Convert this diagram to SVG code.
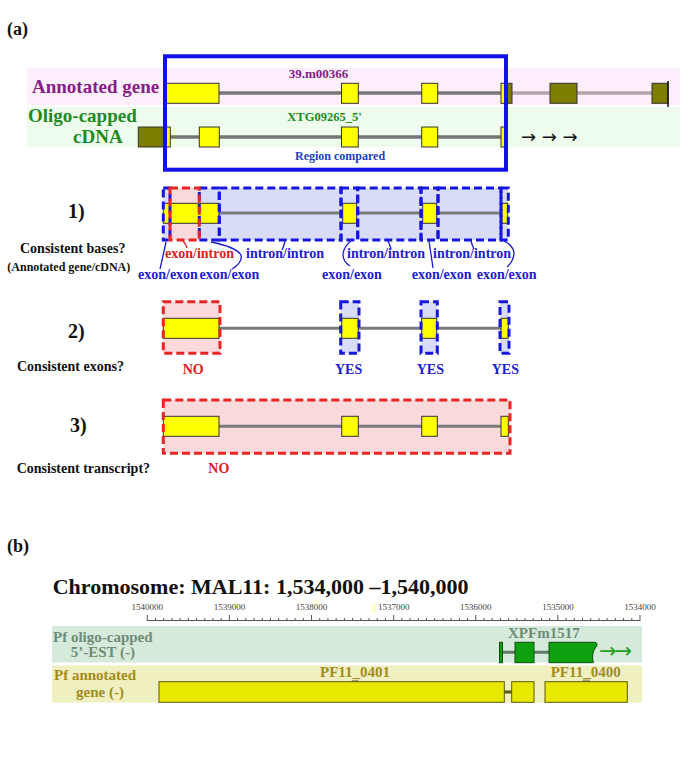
<svg xmlns="http://www.w3.org/2000/svg" width="685" height="782" viewBox="0 0 685 782">
<style>
.t{font-family:"Liberation Serif","Times New Roman",serif;font-weight:bold}
.k{fill:#111}
.pur{fill:#852085}
.grn{fill:#1f8a1f}
.blu{fill:#2020d0}
.red{fill:#e02020}
.ex{fill:#ffff00;stroke:#333;stroke-width:1}
.ol{fill:#7d7d00;stroke:#333;stroke-width:1}
.in{stroke:#767676;stroke-width:3.5}
.in3{stroke:#7a7a7a;stroke-width:3}
.bf{fill:#d9dcf6}
.rf{fill:#f9d9d9}
.bd{fill:none;stroke:#1616e0;stroke-width:3;stroke-dasharray:8 4}
.rd{fill:none;stroke:#e82424;stroke-width:3;stroke-dasharray:8 4}
.br{fill:none;stroke:#1a1ad0;stroke-width:1.3}
.gt{fill:#6f8c74}
.yt{fill:#a08d1e}
.gex{fill:#0ea00e;stroke:#0a500a;stroke-width:1}
.yex{fill:#e8e800;stroke:#5a5a10;stroke-width:1}
</style>
<rect width="685" height="782" fill="#ffffff"/>

<!-- ============ (a) ============ -->
<text class="t k" x="7" y="35" font-size="18">(a)</text>

<g id="top-panel">
  <rect x="27" y="68" width="653" height="37" fill="#fdeefc"/>
  <rect x="27" y="107" width="653" height="40" fill="#eefcee"/>
</g>

<g id="annotated-gene">
  <text class="t pur" x="32" y="92.7" font-size="19">Annotated gene</text>
  <text class="t pur" x="318.5" y="78" font-size="13" text-anchor="middle">39.m00366</text>
  <line class="in" x1="219" y1="93" x2="506" y2="93"/>
  <line x1="512" y1="93" x2="652" y2="93" stroke="#b5a5a8" stroke-width="3.5"/>
  <rect class="ex" x="166.5" y="83.3" width="52.5" height="20"/>
  <rect class="ex" x="341.5" y="83.3" width="16.8" height="20"/>
  <rect class="ex" x="421.7" y="83.3" width="16" height="20"/>
  <rect class="ex" x="501" y="83.3" width="5" height="20"/>
  <rect class="ol" x="506" y="83.3" width="6" height="20"/>
  <rect class="ol" x="550" y="83.3" width="27" height="20"/>
  <rect class="ol" x="652" y="83.3" width="16" height="20"/>
  <line x1="668" y1="81" x2="668" y2="107" stroke="#111" stroke-width="1.5"/>
</g>

<g id="oligo-cdna">
  <text class="t grn" x="28" y="121.7" font-size="19">Oligo-capped</text>
  <text class="t grn" x="73" y="143" font-size="19">cDNA</text>
  <text class="t grn" x="287.3" y="121" font-size="12.5">XTG09265_5'</text>
  <line class="in" x1="170" y1="137" x2="503" y2="137"/>
  <rect class="ol" x="138.3" y="127" width="27" height="20"/>
  <rect class="ex" x="165.3" y="127" width="5" height="20"/>
  <rect class="ex" x="199.3" y="127" width="20" height="20"/>
  <rect class="ex" x="341.5" y="127" width="16.8" height="20"/>
  <rect class="ex" x="421.7" y="127" width="16" height="20"/>
  <rect class="ex" x="501" y="127" width="5" height="20"/>
  <text x="521" y="143" font-family="DejaVu Sans, sans-serif" font-size="18" fill="#111">→ → →</text>
</g>

<g id="region-compared">
  <rect x="165" y="56.3" width="341" height="113.4" fill="none" stroke="#1010e8" stroke-width="4"/>
  <text class="t" x="295" y="160" font-size="12" fill="#2040c0">Region compared</text>
</g>

<!-- ===== 1) Consistent bases ===== -->
<g id="step1">
  <text class="t k" x="68" y="218" font-size="20">1)</text>
  <text class="t k" x="20" y="253.3" font-size="14">Consistent bases?</text>
  <text class="t k" x="7.3" y="271" font-size="12">(Annotated gene/cDNA)</text>
  <rect class="bf" x="163.3" y="188" width="6.7" height="52"/>
  <rect class="rf" x="170" y="188" width="29.3" height="52"/>
  <rect class="bf" x="199.3" y="188" width="308.7" height="52"/>
  <line class="in3" x1="219" y1="213" x2="502" y2="213"/>
  <rect class="ex" x="163.3" y="203.3" width="55.7" height="20"/>
  <line x1="170" y1="203.3" x2="170" y2="223.3" stroke="#222" stroke-width="1"/>
  <rect class="ex" x="342.7" y="203.3" width="14" height="20"/>
  <rect class="ex" x="422.7" y="203.3" width="14" height="20"/>
  <rect class="ex" x="501.7" y="203.3" width="6" height="20"/>
  <rect class="bd" x="163.3" y="188" width="6.7" height="52"/>
  <rect class="bd" x="199.3" y="188" width="20" height="52"/>
  <rect class="bd" x="219.3" y="188" width="121.7" height="52"/>
  <rect class="bd" x="341" y="188" width="16.7" height="52"/>
  <rect class="bd" x="357.7" y="188" width="63.3" height="52"/>
  <rect class="bd" x="421" y="188" width="17" height="52"/>
  <rect class="bd" x="438" y="188" width="63" height="52"/>
  <rect class="bd" x="501" y="188" width="7.3" height="52"/>
  <rect class="rd" x="170" y="188" width="29.3" height="52"/>
  <text class="t red" x="165" y="258" font-size="14">exon/intron</text>
  <text class="t blu" x="246" y="258" font-size="14">intron/intron</text>
  <text class="t blu" x="347" y="258" font-size="14">intron/intron</text>
  <text class="t blu" x="433" y="258" font-size="14">intron/intron</text>
  <text class="t blu" x="138" y="279" font-size="14">exon/exon</text>
  <text class="t blu" x="199.5" y="279" font-size="14">exon/exon</text>
  <text class="t blu" x="322" y="279" font-size="14">exon/exon</text>
  <text class="t blu" x="411.7" y="279" font-size="14">exon/exon</text>
  <text class="t blu" x="476.7" y="279" font-size="14">exon/exon</text>
</g>

<g id="connectors">
  <path class="br" d="M166,242 Q163,256 160,269"/>
  <path d="M183,241 Q186,244 187,248" fill="none" stroke="#e02020" stroke-width="1.3"/>
  <path class="br" d="M211,242 Q236,247 241,255 Q243,262 232,269"/>
  <path class="br" d="M285,241 Q284,246 282,250"/>
  <path class="br" d="M351,241 Q344,246 343,254 Q343,262 350,266"/>
  <path class="br" d="M388,241 Q390,245 391,249"/>
  <path class="br" d="M429,241 L433,268"/>
  <path class="br" d="M471,241 Q472,245 474,249"/>
  <path class="br" d="M504,241 Q514,246 514,254 Q513,262 507,267"/>
</g>

<!-- ===== 2) Consistent exons ===== -->
<g id="step2">
  <text class="t k" x="68" y="338" font-size="20">2)</text>
  <text class="t k" x="17" y="371" font-size="14">Consistent exons?</text>
  <rect class="rf" x="163.3" y="301.7" width="56.7" height="51.6"/>
  <rect class="bf" x="340.7" y="301.7" width="18.3" height="51.6"/>
  <rect class="bf" x="421" y="301.7" width="16.3" height="51.6"/>
  <rect class="bf" x="500" y="301.7" width="9" height="51.6"/>
  <line class="in3" x1="219" y1="328.3" x2="502" y2="328.3"/>
  <rect class="ex" x="163.3" y="318.3" width="55.7" height="20"/>
  <rect class="ex" x="341.7" y="318.3" width="16.6" height="20"/>
  <rect class="ex" x="421.7" y="318.3" width="15" height="20"/>
  <rect class="ex" x="501" y="318.3" width="7.3" height="20"/>
  <rect class="rd" x="163.3" y="301.7" width="56.7" height="51.6"/>
  <rect class="bd" x="340.7" y="301.7" width="18.3" height="51.6"/>
  <rect class="bd" x="421" y="301.7" width="16.3" height="51.6"/>
  <rect class="bd" x="500" y="301.7" width="9" height="51.6"/>
  <text class="t red" x="182.7" y="374" font-size="14">NO</text>
  <text class="t blu" x="335" y="374" font-size="14">YES</text>
  <text class="t blu" x="416.7" y="374" font-size="14">YES</text>
  <text class="t blu" x="491.7" y="374" font-size="14">YES</text>
</g>

<!-- ===== 3) Consistent transcript ===== -->
<g id="step3">
  <text class="t k" x="70" y="431.7" font-size="20">3)</text>
  <text class="t k" x="16.7" y="473.3" font-size="14">Consistent transcript?</text>
  <rect class="rf" x="163.3" y="400" width="346.7" height="53.3"/>
  <line class="in3" x1="219" y1="426.3" x2="502" y2="426.3"/>
  <rect class="ex" x="163.3" y="416.3" width="55.7" height="20"/>
  <rect class="ex" x="341.7" y="416.3" width="16.6" height="20"/>
  <rect class="ex" x="421.7" y="416.3" width="15.6" height="20"/>
  <rect class="ex" x="501" y="416.3" width="7.3" height="20"/>
  <rect class="rd" x="163.3" y="400" width="346.7" height="53.3"/>
  <text class="t red" x="208.3" y="473.3" font-size="14">NO</text>
</g>

<!-- ============ (b) ============ -->
<text class="t k" x="7" y="552" font-size="18">(b)</text>
<text class="t k" x="52.7" y="594" font-size="22">Chromosome: MAL11: 1,534,000 –1,540,000</text>

<g id="ruler">
  <rect x="371.5" y="604" width="4.5" height="9" fill="#ffffc8"/>
  <path fill="none" stroke="#555" stroke-width="1" d="M147.3,620.5 H640 M147.3,621 v-6 m8.2117,6 v-3 m8.2117,3 v-3 m8.2117,3 v-3 m8.2117,3 v-3 m8.2117,3 v-3 m8.2117,3 v-3 m8.2117,3 v-3 m8.2117,3 v-3 m8.2117,3 v-3 m8.2117,3 v-6 m8.2117,6 v-3 m8.2117,3 v-3 m8.2117,3 v-3 m8.2117,3 v-3 m8.2117,3 v-3 m8.2117,3 v-3 m8.2117,3 v-3 m8.2117,3 v-3 m8.2117,3 v-3 m8.2117,3 v-6 m8.2117,6 v-3 m8.2117,3 v-3 m8.2117,3 v-3 m8.2117,3 v-3 m8.2117,3 v-3 m8.2117,3 v-3 m8.2117,3 v-3 m8.2117,3 v-3 m8.2117,3 v-3 m8.2117,3 v-6 m8.2117,6 v-3 m8.2117,3 v-3 m8.2117,3 v-3 m8.2117,3 v-3 m8.2117,3 v-3 m8.2117,3 v-3 m8.2117,3 v-3 m8.2117,3 v-3 m8.2117,3 v-3 m8.2117,3 v-6 m8.2117,6 v-3 m8.2117,3 v-3 m8.2117,3 v-3 m8.2117,3 v-3 m8.2117,3 v-3 m8.2117,3 v-3 m8.2117,3 v-3 m8.2117,3 v-3 m8.2117,3 v-3 m8.2117,3 v-6 m8.2117,6 v-3 m8.2117,3 v-3 m8.2117,3 v-3 m8.2117,3 v-3 m8.2117,3 v-3 m8.2117,3 v-3 m8.2117,3 v-3 m8.2117,3 v-3 m8.2117,3 v-3 m8.2117,3 v-6"/>
  <g font-family="Liberation Serif, serif" font-size="9" fill="#444" text-anchor="middle">
    <text x="147.3" y="610">1540000</text>
    <text x="229.4" y="610">1539000</text>
    <text x="311.5" y="610">1538000</text>
    <text x="393.7" y="610">1537000</text>
    <text x="475.8" y="610">1536000</text>
    <text x="557.9" y="610">1535000</text>
    <text x="640" y="610">1534000</text>
  </g>
</g>

<g id="est-track">
  <rect x="52" y="626" width="590" height="36.5" fill="#d6eadc"/>
  <text class="t gt" x="53" y="641.7" font-size="15">Pf oligo-capped</text>
  <text class="t gt" x="70.7" y="657.3" font-size="15">5’-EST (-)</text>
  <text class="t gt" x="508" y="637.7" font-size="15">XPFm1517</text>
  <line x1="502" y1="652.3" x2="549" y2="652.3" stroke="#5f7a64" stroke-width="3"/>
  <rect class="gex" x="499.5" y="642.3" width="3" height="20.4"/>
  <rect class="gex" x="515" y="642.3" width="19" height="20.4"/>
  <path class="gex" d="M549,642.3 H595 Q598.5,643 596,647 Q591,653 593.3,662.7 H549 Z"/>
  <text x="599" y="657.5" font-family="DejaVu Sans, sans-serif" font-size="21" fill="#22a022" letter-spacing="-2">→→</text>
</g>

<g id="gene-track">
  <rect x="52" y="665.5" width="590" height="37" fill="#efefc0"/>
  <text class="t yt" x="54" y="680" font-size="15">Pf annotated</text>
  <text class="t yt" x="76" y="696.7" font-size="15">gene (-)</text>
  <text class="t yt" x="320" y="677" font-size="15">PF11_0401</text>
  <text class="t yt" x="550.7" y="677" font-size="15">PF11_0400</text>
  <rect x="351.7" y="680" width="6.6" height="2.5" fill="#a0a080"/>
  <rect x="582.7" y="679.5" width="7.3" height="2.5" fill="#a0a080"/>
  <line x1="504" y1="692" x2="512" y2="692" stroke="#5a5a10" stroke-width="3"/>
  <rect class="yex" x="159" y="681.7" width="345.3" height="20.6"/>
  <rect class="yex" x="511.7" y="681.7" width="22.3" height="20.6"/>
  <rect class="yex" x="545" y="681.7" width="82.3" height="20.6"/>
</g>
</svg>
